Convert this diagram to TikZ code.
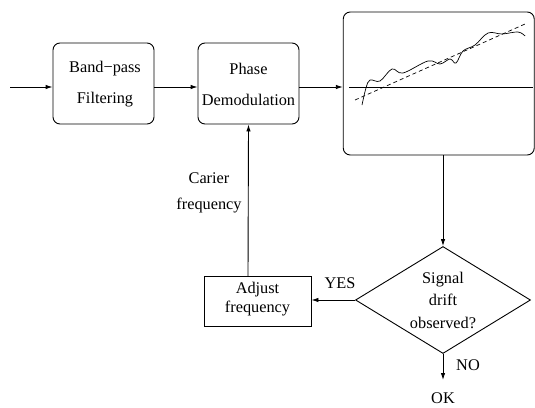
\documentclass[tikz,border=0pt]{standalone}
\usepackage{fontspec}
\setmainfont{Liberation Serif}
\usetikzlibrary{shapes.geometric,arrows.meta}
\begin{document}
\begin{tikzpicture}[x=1pt,y=-1pt,
  arr/.style={-{Latex[length=7pt,width=4.5pt]}},
  ln/.style={line width=0.9pt},
  rbox/.style={draw,ln,rounded corners=7pt,minimum width=101pt,minimum height=81pt,inner sep=0pt},
  txt/.style={font=\fontsize{16.3}{31}\selectfont,align=center,inner sep=0pt},
  lbl/.style={font=\fontsize{16.3}{19}\selectfont,align=center,inner sep=0pt}]
\useasboundingbox (0,0) rectangle (535,407);
\node[rbox] (b1) at (103.5,83.5) {};
\node[txt] (t1) at (105,84.5) {Band−pass\\Filtering};
\node[rbox] (b2) at (248.5,83.5) {};
\node[txt] (t2) at (248.5,84.5) {Phase\\Demodulation};
\node[rbox,minimum width=191pt,minimum height=143pt] (pl) at (438.75,83.5) {};
\coordinate (in) at (10,87);
\draw[ln,arr] (in) -- (b1.west |- in);
\draw[ln,arr] (b1.east |- in) -- (b2.west |- in);
\draw[ln,arr] (b2.east |- in) -- (pl.west |- in);
% plot content
\draw[line width=0.7pt] (349,87) -- (533,87);
\draw[line width=0.7pt,dash pattern=on 4pt off 3pt] (355,100) -- (525,24);
\draw[line width=0.7pt] plot[smooth,tension=0.6] coordinates {(362,105) (366,88) (370,80) (380,81) (392,69) (403,73) (428,61) (440,64) (450,59) (456,63) (463,51) (475,45) (488,33) (502,34) (518,32) (525,36)};
% diamond
\node[draw,ln,diamond,minimum width=175pt,minimum height=107pt,inner sep=0pt] (dia) at (443,300) {};
\node[font=\fontsize{16.3}{22.5}\selectfont,align=center,inner sep=0pt] (dt) at (443,300) {Signal\\drift\\observed?};
\draw[ln,arr] (dia.north |- pl.south) -- (dia.north);
% adjust
\node[draw,ln,minimum width=107pt,minimum height=50pt,inner sep=0pt] (adj) at (257.5,301) {};
\node[lbl] (at) at (257.5,299) {Adjust\\frequency};
\draw[ln,arr] (dia.west) -- (adj.east |- dia.west);
\node[lbl] (yes) at (340,283) {YES};
\coordinate (up) at (248,276);
\draw[ln,arr] (up) -- (b2.south);
\node[font=\fontsize{16.3}{26}\selectfont,align=center,inner sep=0pt] (car) at (209,192.5) {Carier\\frequency};
\coordinate (ok) at (443,380);
\draw[ln,arr] (dia.south) -- (ok);
\node[lbl] (no) at (468,365) {NO};
\node[lbl] (okt) at (443,398) {OK};
\end{tikzpicture}
\end{document}
